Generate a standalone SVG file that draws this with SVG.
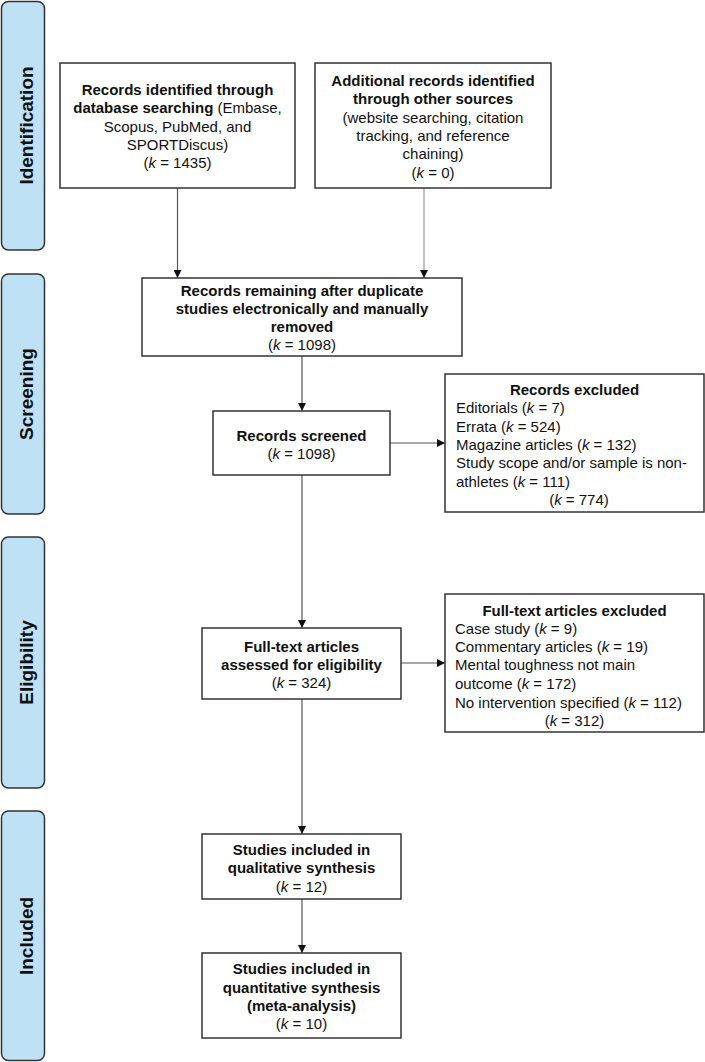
<svg xmlns="http://www.w3.org/2000/svg" width="705" height="1062" viewBox="0 0 705 1062">
<defs>
<marker id="ah" viewBox="0 0 10 10" refX="10" refY="5" markerWidth="8" markerHeight="8" markerUnits="userSpaceOnUse" orient="auto">
<path d="M0,0 L10,5 L0,10 z" fill="#111"/>
</marker>
<style>
.stage{fill:#bfe1f6;stroke:#333;stroke-width:1.5}
.stl{font-family:"Liberation Sans",Arial,sans-serif;font-size:19px;font-weight:bold;fill:#111;text-anchor:middle}
.box{fill:#fff;stroke:#333;stroke-width:1.5}
.t{font-family:"Liberation Sans",Arial,sans-serif;font-size:15px;fill:#111}
.c{text-anchor:middle}
.b{font-weight:bold}
.i{font-style:italic}
.ln{stroke:#555;stroke-width:1.2;fill:none}
</style>
</defs>
<rect width="705" height="1062" fill="#fff"/>
<g id="stage-identification"><rect class="stage" x="1.5" y="1.5" width="43" height="248.5" rx="7"/><text class="stl" transform="translate(33,125.5) rotate(-90)">Identification</text></g>
<g id="stage-screening"><rect class="stage" x="1.5" y="274" width="43" height="240" rx="7"/><text class="stl" transform="translate(33,394) rotate(-90)">Screening</text></g>
<g id="stage-eligibility"><rect class="stage" x="1.5" y="537" width="43" height="251" rx="7"/><text class="stl" transform="translate(33,662.5) rotate(-90)">Eligibility</text></g>
<g id="stage-included"><rect class="stage" x="1.5" y="811" width="43" height="249.5" rx="7"/><text class="stl" transform="translate(33,936) rotate(-90)">Included</text></g>

<g id="connectors">
<line class="ln" x1="177.5" y1="188" x2="177.5" y2="278" marker-end="url(#ah)"/>
<line class="ln" x1="424" y1="188" x2="424" y2="278" stroke="#999" style="stroke:#999" marker-end="url(#ah)"/>
<line class="ln" x1="302" y1="356" x2="302" y2="411" marker-end="url(#ah)"/>
<line class="ln" x1="390" y1="443" x2="445" y2="443" marker-end="url(#ah)"/>
<line class="ln" x1="302" y1="475" x2="302" y2="628" marker-end="url(#ah)"/>
<line class="ln" x1="401" y1="663" x2="445" y2="663" marker-end="url(#ah)"/>
<line class="ln" x1="302" y1="699" x2="302" y2="834" marker-end="url(#ah)"/>
<line class="ln" x1="302" y1="899" x2="302" y2="953" marker-end="url(#ah)"/>
</g>

<g id="n-database">
<rect class="box" x="60" y="63" width="235" height="125"/>
<text class="t c" x="177.5" y="95"><tspan class="b">Records identified through</tspan></text>
<text class="t c" x="177.5" y="113.3"><tspan class="b">database searching</tspan> (Embase,</text>
<text class="t c" x="177.5" y="131.6">Scopus, PubMed, and</text>
<text class="t c" x="177.5" y="149.9">SPORTDiscus)</text>
<text class="t c" x="177.5" y="168.2">(<tspan class="i">k</tspan> = 1435)</text>
</g>

<g id="n-other">
<rect class="box" x="315" y="63" width="236" height="125"/>
<text class="t c b" x="433" y="86">Additional records identified</text>
<text class="t c b" x="433" y="104.3">through other sources</text>
<text class="t c" x="433" y="122.6">(website searching, citation</text>
<text class="t c" x="433" y="140.9">tracking, and reference</text>
<text class="t c" x="433" y="159.2">chaining)</text>
<text class="t c" x="433" y="177.5">(<tspan class="i">k</tspan> = 0)</text>
</g>

<g id="n-dedup">
<rect class="box" x="142" y="278" width="320" height="78"/>
<text class="t c b" x="302" y="295.5">Records remaining after duplicate</text>
<text class="t c b" x="302" y="313.8">studies electronically and manually</text>
<text class="t c b" x="302" y="332.1">removed</text>
<text class="t c" x="302" y="350.4">(<tspan class="i">k</tspan> = 1098)</text>
</g>

<g id="n-screened">
<rect class="box" x="213" y="411" width="177" height="64"/>
<text class="t c b" x="301.5" y="441">Records screened</text>
<text class="t c" x="301.5" y="459.3">(<tspan class="i">k</tspan> = 1098)</text>
</g>

<g id="n-excluded">
<rect class="box" x="445" y="374" width="259" height="138"/>
<text class="t c b" x="574.5" y="395">Records excluded</text>
<text class="t" x="456" y="413.3">Editorials (<tspan class="i">k</tspan> = 7)</text>
<text class="t" x="456" y="431.6">Errata (<tspan class="i">k</tspan> = 524)</text>
<text class="t" x="456" y="449.9">Magazine articles (<tspan class="i">k</tspan> = 132)</text>
<text class="t" x="456" y="468.2">Study scope and/or sample is non-</text>
<text class="t" x="456" y="486.5">athletes (<tspan class="i">k</tspan> = 111)</text>
<text class="t c" x="579" y="504.8">(<tspan class="i">k</tspan> = 774)</text>
</g>

<g id="n-fulltext">
<rect class="box" x="202" y="628" width="199" height="71"/>
<text class="t c b" x="301.5" y="651.7">Full-text articles</text>
<text class="t c b" x="301.5" y="670">assessed for eligibility</text>
<text class="t c" x="301.5" y="688.3">(<tspan class="i">k</tspan> = 324)</text>
</g>

<g id="n-ftexcluded">
<rect class="box" x="445" y="594" width="259" height="138"/>
<text class="t c b" x="574.5" y="615.5">Full-text articles excluded</text>
<text class="t" x="455" y="633.8">Case study (<tspan class="i">k</tspan> = 9)</text>
<text class="t" x="455" y="652.1">Commentary articles (<tspan class="i">k</tspan> = 19)</text>
<text class="t" x="455" y="670.4">Mental toughness not main</text>
<text class="t" x="455" y="688.7">outcome (<tspan class="i">k</tspan> = 172)</text>
<text class="t" x="455" y="707.5">No intervention specified (<tspan class="i">k</tspan> = 112)</text>
<text class="t c" x="574.5" y="725.8">(<tspan class="i">k</tspan> = 312)</text>
</g>

<g id="n-qualitative">
<rect class="box" x="202" y="834" width="199" height="65"/>
<text class="t c b" x="301.5" y="855">Studies included in</text>
<text class="t c b" x="301.5" y="873.3">qualitative synthesis</text>
<text class="t c" x="301.5" y="891.6">(<tspan class="i">k</tspan> = 12)</text>
</g>

<g id="n-quantitative">
<rect class="box" x="202" y="953" width="199" height="85"/>
<text class="t c b" x="301.5" y="974.3">Studies included in</text>
<text class="t c b" x="301.5" y="992.6">quantitative synthesis</text>
<text class="t c b" x="301.5" y="1010.9">(meta-analysis)</text>
<text class="t c" x="301.5" y="1029.2">(<tspan class="i">k</tspan> = 10)</text>
</g>
</svg>
